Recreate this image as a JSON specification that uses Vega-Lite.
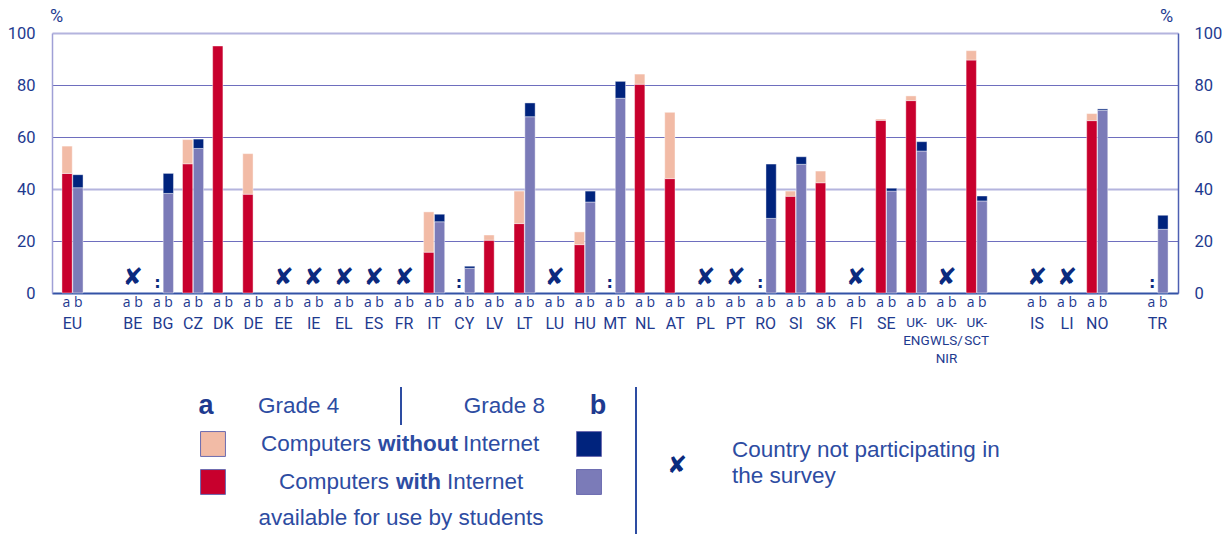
{
  "$schema": "https://vega.github.io/schema/vega-lite/v6.json",
  "width": 1126,
  "height": 260,
  "autosize": {"type": "none"},
  "padding": {"left": 52, "top": 33, "right": 48, "bottom": 241},
  "background": "#ffffff",
  "config": {"view": {"stroke": null}},
  "datasets": {
    "bars": [
      {"c": "EU", "g": "a", "s": "a-with", "v": 46}, {"c": "EU", "g": "a", "s": "a-without", "v": 10.5},
      {"c": "EU", "g": "b", "s": "b-with", "v": 40.5}, {"c": "EU", "g": "b", "s": "b-without", "v": 5},
      {"c": "BG", "g": "b", "s": "b-with", "v": 38.3}, {"c": "BG", "g": "b", "s": "b-without", "v": 7.7},
      {"c": "CZ", "g": "a", "s": "a-with", "v": 49.7}, {"c": "CZ", "g": "a", "s": "a-without", "v": 9.3},
      {"c": "CZ", "g": "b", "s": "b-with", "v": 55.6}, {"c": "CZ", "g": "b", "s": "b-without", "v": 3.6},
      {"c": "DK", "g": "a", "s": "a-with", "v": 95},
      {"c": "DE", "g": "a", "s": "a-with", "v": 38}, {"c": "DE", "g": "a", "s": "a-without", "v": 15.6},
      {"c": "IT", "g": "a", "s": "a-with", "v": 15.7}, {"c": "IT", "g": "a", "s": "a-without", "v": 15.5},
      {"c": "IT", "g": "b", "s": "b-with", "v": 27.4}, {"c": "IT", "g": "b", "s": "b-without", "v": 2.9},
      {"c": "CY", "g": "b", "s": "b-with", "v": 9.5}, {"c": "CY", "g": "b", "s": "b-without", "v": 0.8},
      {"c": "LV", "g": "a", "s": "a-with", "v": 20.3}, {"c": "LV", "g": "a", "s": "a-without", "v": 2},
      {"c": "LT", "g": "a", "s": "a-with", "v": 26.7}, {"c": "LT", "g": "a", "s": "a-without", "v": 12.5},
      {"c": "LT", "g": "b", "s": "b-with", "v": 67.8}, {"c": "LT", "g": "b", "s": "b-without", "v": 5.3},
      {"c": "HU", "g": "a", "s": "a-with", "v": 18.6}, {"c": "HU", "g": "a", "s": "a-without", "v": 4.9},
      {"c": "HU", "g": "b", "s": "b-with", "v": 35}, {"c": "HU", "g": "b", "s": "b-without", "v": 4.2},
      {"c": "MT", "g": "b", "s": "b-with", "v": 74.9}, {"c": "MT", "g": "b", "s": "b-without", "v": 6.5},
      {"c": "NL", "g": "a", "s": "a-with", "v": 80.3}, {"c": "NL", "g": "a", "s": "a-without", "v": 3.9},
      {"c": "AT", "g": "a", "s": "a-with", "v": 44}, {"c": "AT", "g": "a", "s": "a-without", "v": 25.5},
      {"c": "RO", "g": "b", "s": "b-with", "v": 28.7}, {"c": "RO", "g": "b", "s": "b-without", "v": 20.9},
      {"c": "SI", "g": "a", "s": "a-with", "v": 37.2}, {"c": "SI", "g": "a", "s": "a-without", "v": 2},
      {"c": "SI", "g": "b", "s": "b-with", "v": 49.5}, {"c": "SI", "g": "b", "s": "b-without", "v": 2.9},
      {"c": "SK", "g": "a", "s": "a-with", "v": 42.4}, {"c": "SK", "g": "a", "s": "a-without", "v": 4.5},
      {"c": "SE", "g": "a", "s": "a-with", "v": 66.4}, {"c": "SE", "g": "a", "s": "a-without", "v": 0.5},
      {"c": "SE", "g": "b", "s": "b-with", "v": 39.2}, {"c": "SE", "g": "b", "s": "b-without", "v": 1.1},
      {"c": "UK-ENG", "g": "a", "s": "a-with", "v": 74}, {"c": "UK-ENG", "g": "a", "s": "a-without", "v": 1.8},
      {"c": "UK-ENG", "g": "b", "s": "b-with", "v": 54.6}, {"c": "UK-ENG", "g": "b", "s": "b-without", "v": 3.6},
      {"c": "UK-SCT", "g": "a", "s": "a-with", "v": 89.6}, {"c": "UK-SCT", "g": "a", "s": "a-without", "v": 3.6},
      {"c": "UK-SCT", "g": "b", "s": "b-with", "v": 35.4}, {"c": "UK-SCT", "g": "b", "s": "b-without", "v": 1.9},
      {"c": "NO", "g": "a", "s": "a-with", "v": 66.3}, {"c": "NO", "g": "a", "s": "a-without", "v": 2.7},
      {"c": "NO", "g": "b", "s": "b-with", "v": 70.3}, {"c": "NO", "g": "b", "s": "b-without", "v": 0.5},
      {"c": "TR", "g": "b", "s": "b-with", "v": 24.5}, {"c": "TR", "g": "b", "s": "b-without", "v": 5.4}
    ],
    "countries": [
      {"c": "EU"}, {"c": "BE"}, {"c": "BG"}, {"c": "CZ"}, {"c": "DK"}, {"c": "DE"}, {"c": "EE"}, {"c": "IE"},
      {"c": "EL"}, {"c": "ES"}, {"c": "FR"}, {"c": "IT"}, {"c": "CY"}, {"c": "LV"}, {"c": "LT"}, {"c": "LU"},
      {"c": "HU"}, {"c": "MT"}, {"c": "NL"}, {"c": "AT"}, {"c": "PL"}, {"c": "PT"}, {"c": "RO"}, {"c": "SI"},
      {"c": "SK"}, {"c": "FI"}, {"c": "SE"}, {"c": "UK-ENG"}, {"c": "UK-WLS/NIR"}, {"c": "UK-SCT"},
      {"c": "IS"}, {"c": "LI"}, {"c": "NO"}, {"c": "TR"}
    ],
    "missing": [
      {"c": "BE", "k": "x"}, {"c": "EE", "k": "x"}, {"c": "IE", "k": "x"}, {"c": "EL", "k": "x"},
      {"c": "ES", "k": "x"}, {"c": "FR", "k": "x"}, {"c": "LU", "k": "x"}, {"c": "PL", "k": "x"},
      {"c": "PT", "k": "x"}, {"c": "FI", "k": "x"}, {"c": "UK-WLS/NIR", "k": "x"}, {"c": "IS", "k": "x"},
      {"c": "LI", "k": "x"},
      {"c": "BG", "k": "na"}, {"c": "CY", "k": "na"}, {"c": "MT", "k": "na"}, {"c": "RO", "k": "na"}, {"c": "TR", "k": "na"}
    ],
    "swatches": [
      {"g": "a", "t": "without", "s": "a-without"}, {"g": "a", "t": "with", "s": "a-with"},
      {"g": "b", "t": "without", "s": "b-without"}, {"g": "b", "t": "with", "s": "b-with"}
    ],
    "one": [{}]
  },
  "resolve": {"scale": {"x": "independent", "y": "independent"}},
  "layer": [
    {
      "layer": [
        {
          "data": {"name": "bars"},
          "mark": {"type": "bar", "stroke": "#ffffff", "strokeWidth": 0.7, "strokeOpacity": 0.6},
          "encoding": {
            "x": {
              "field": "c", "type": "nominal",
              "scale": {"domain": ["EU","_1","BE","BG","CZ","DK","DE","EE","IE","EL","ES","FR","IT","CY","LV","LT","LU","HU","MT","NL","AT","PL","PT","RO","SI","SK","FI","SE","UK-ENG","UK-WLS/NIR","UK-SCT","_2","IS","LI","NO","_3","TR"], "paddingInner": 0.3, "paddingOuter": 0.33},
              "axis": {
                "title": null, "ticks": false, "labelAngle": 0, "labelPadding": 22, "labelOverlap": false,
                "labelFont": "Roboto",
                "labelFontSize": {"condition": {"test": "indexof(datum.value, 'UK') == 0", "value": 13.5}, "value": 16},
                "labelColor": "#1E3A8F", "labelLineHeight": 18, "labelBaseline": "top",
                "domainColor": "#3352A6", "domainWidth": 2,
                "labelExpr": "datum.value == 'UK-ENG' ? ['UK-', 'ENG'] : datum.value == 'UK-WLS/NIR' ? ['UK-', 'WLS/', 'NIR'] : datum.value == 'UK-SCT' ? ['UK-', 'SCT'] : (indexof(datum.value, '_') == 0 ? '' : datum.value)"
              }
            },
            "xOffset": {"field": "g", "type": "nominal", "scale": {"domain": ["a", "b"], "paddingInner": 0.05}},
            "y": {
              "field": "v", "type": "quantitative", "stack": "zero",
              "scale": {"domain": [0, 100], "nice": false},
              "axis": {
                "title": "%", "titleAngle": 0, "titleX": 4, "titleY": -8, "titleAlign": "center", "titleBaseline": "bottom",
                "titleFont": "Roboto", "titleFontSize": 18, "titleFontWeight": "normal", "titleColor": "#1E3A8F",
                "values": [0, 20, 40, 60, 80, 100], "ticks": false, "labelPadding": 17,
                "labelFont": "Roboto", "labelFontSize": 16.5, "labelColor": "#1E3A8F",
                "domainColor": "#A0A0D6", "domainWidth": 1.5,
                "grid": true,
                "gridColor": {"condition": {"test": "datum.value === 40 || datum.value === 100", "value": "#B4B4DE"}, "value": "#6E6EBE"},
                "gridWidth": {"condition": {"test": "datum.value === 40 || datum.value === 100", "value": 2}, "value": 1}
              }
            },
            "color": {
              "field": "s", "type": "nominal",
              "scale": {"domain": ["a-with", "a-without", "b-with", "b-without"], "range": ["#C8002D", "#F2BBA6", "#7B7BB8", "#00237D"]},
              "legend": null
            },
            "order": {"field": "s", "type": "nominal", "sort": "ascending"}
          }
        },
        {
          "data": {"name": "countries"},
          "mark": {"type": "text", "text": "a b", "baseline": "top", "dy": 3, "font": "Open Sans", "fontSize": 14, "color": "#1E3A8F"},
          "encoding": {
            "x": {"field": "c", "type": "nominal", "scale": {"domain": ["EU","_1","BE","BG","CZ","DK","DE","EE","IE","EL","ES","FR","IT","CY","LV","LT","LU","HU","MT","NL","AT","PL","PT","RO","SI","SK","FI","SE","UK-ENG","UK-WLS/NIR","UK-SCT","_2","IS","LI","NO","_3","TR"]}},
            "y": {"datum": 0, "type": "quantitative"}
          }
        },
        {
          "data": {"name": "missing"},
          "transform": [{"filter": "datum.k === 'x'"}],
          "mark": {"type": "text", "text": "✘", "baseline": "bottom", "dy": -3, "font": "DejaVu Sans", "fontSize": 24, "fontStyle": "italic", "color": "#0B2A7E"},
          "encoding": {
            "x": {"field": "c", "type": "nominal", "scale": {"domain": ["EU","_1","BE","BG","CZ","DK","DE","EE","IE","EL","ES","FR","IT","CY","LV","LT","LU","HU","MT","NL","AT","PL","PT","RO","SI","SK","FI","SE","UK-ENG","UK-WLS/NIR","UK-SCT","_2","IS","LI","NO","_3","TR"]}},
            "y": {"datum": 0, "type": "quantitative"}
          }
        },
        {
          "data": {"name": "missing"},
          "transform": [{"filter": "datum.k === 'na'"}],
          "mark": {"type": "text", "text": ":", "baseline": "bottom", "dy": -2, "font": "DejaVu Sans", "fontWeight": "bold", "fontSize": 16, "color": "#0B2A7E"},
          "encoding": {
            "x": {"field": "c", "type": "nominal", "scale": {"domain": ["EU","_1","BE","BG","CZ","DK","DE","EE","IE","EL","ES","FR","IT","CY","LV","LT","LU","HU","MT","NL","AT","PL","PT","RO","SI","SK","FI","SE","UK-ENG","UK-WLS/NIR","UK-SCT","_2","IS","LI","NO","_3","TR"]}},
            "xOffset": {"datum": "a"},
            "y": {"datum": 0, "type": "quantitative"}
          }
        }
      ]
    },
    {
      "data": {"name": "bars"},
      "mark": {"type": "rule", "opacity": 0},
      "encoding": {
        "y": {
          "field": "v", "type": "quantitative",
          "scale": {"domain": [0, 100], "nice": false},
          "axis": {
            "orient": "right", "title": "%", "titleAngle": 0, "titleX": -12, "titleY": -8, "titleAlign": "center", "titleBaseline": "bottom",
            "titleFont": "Roboto", "titleFontSize": 18, "titleFontWeight": "normal", "titleColor": "#1E3A8F",
            "values": [0, 20, 40, 60, 80, 100], "ticks": false, "labelPadding": 16, "grid": false,
            "labelFont": "Roboto", "labelFontSize": 16.5, "labelColor": "#1E3A8F",
            "domainColor": "#4E5FB2", "domainWidth": 1.5
          }
        }
      }
    },
    {
      "layer": [
        {
          "data": {"name": "swatches"},
          "mark": {"type": "square", "size": 620, "opacity": 1, "stroke": "#6B6BB0", "strokeWidth": 1},
          "encoding": {
            "x": {"field": "g", "type": "nominal", "scale": {"type": "point", "domain": ["a","g4","c2","c3","mid","c5","c6","g8","b","sep","x","note"], "range": [161, 678], "padding": 0}, "axis": null},
            "y": {"field": "t", "type": "nominal", "scale": {"type": "point", "domain": ["top","head","h2","without","m","with","w2","avail","bot"], "range": [354, 506], "padding": 0}, "axis": null},
            "color": {"field": "s", "type": "nominal", "legend": null}
          }
        },
        {
          "data": {"name": "one"},
          "mark": {"type": "text", "text": "a", "dx": -7, "font": "Liberation Sans", "fontWeight": "bold", "fontSize": 27, "baseline": "middle", "color": "#1E3A8F"},
          "encoding": {"x": {"datum": "a", "type": "nominal"}, "y": {"datum": "head", "type": "nominal"}}
        },
        {
          "data": {"name": "one"},
          "mark": {"type": "text", "text": "b", "dx": 9, "font": "Liberation Sans", "fontWeight": "bold", "fontSize": 27, "baseline": "middle", "color": "#1E3A8F"},
          "encoding": {"x": {"datum": "b", "type": "nominal"}, "y": {"datum": "head", "type": "nominal"}}
        },
        {
          "data": {"name": "one"},
          "mark": {"type": "text", "text": "Grade 4", "align": "left", "dx": -2, "font": "Liberation Sans", "fontSize": 22.5, "baseline": "middle", "color": "#2D4CA2"},
          "encoding": {"x": {"datum": "g4", "type": "nominal"}, "y": {"datum": "head", "type": "nominal"}}
        },
        {
          "data": {"name": "one"},
          "mark": {"type": "text", "text": "Grade 8", "align": "right", "dx": 3, "font": "Liberation Sans", "fontSize": 22.5, "baseline": "middle", "color": "#2D4CA2"},
          "encoding": {"x": {"datum": "g8", "type": "nominal"}, "y": {"datum": "head", "type": "nominal"}}
        },
        {
          "data": {"name": "one"},
          "mark": {"type": "text", "text": "Computers", "align": "left", "dx": -140, "font": "Liberation Sans", "fontSize": 22.5, "baseline": "middle", "color": "#2D4CA2"},
          "encoding": {"x": {"datum": "mid", "type": "nominal"}, "y": {"datum": "without", "type": "nominal"}}
        },
        {
          "data": {"name": "one"},
          "mark": {"type": "text", "text": "without", "align": "left", "dx": -23, "font": "Liberation Sans", "fontWeight": "bold", "fontSize": 22.5, "baseline": "middle", "color": "#2D4CA2"},
          "encoding": {"x": {"datum": "mid", "type": "nominal"}, "y": {"datum": "without", "type": "nominal"}}
        },
        {
          "data": {"name": "one"},
          "mark": {"type": "text", "text": "Internet", "align": "left", "dx": 62, "font": "Liberation Sans", "fontSize": 22.5, "baseline": "middle", "color": "#2D4CA2"},
          "encoding": {"x": {"datum": "mid", "type": "nominal"}, "y": {"datum": "without", "type": "nominal"}}
        },
        {
          "data": {"name": "one"},
          "mark": {"type": "text", "text": "Computers", "align": "left", "dx": -122, "font": "Liberation Sans", "fontSize": 22.5, "baseline": "middle", "color": "#2D4CA2"},
          "encoding": {"x": {"datum": "mid", "type": "nominal"}, "y": {"datum": "with", "type": "nominal"}}
        },
        {
          "data": {"name": "one"},
          "mark": {"type": "text", "text": "with", "align": "left", "dx": -5, "font": "Liberation Sans", "fontWeight": "bold", "fontSize": 22.5, "baseline": "middle", "color": "#2D4CA2"},
          "encoding": {"x": {"datum": "mid", "type": "nominal"}, "y": {"datum": "with", "type": "nominal"}}
        },
        {
          "data": {"name": "one"},
          "mark": {"type": "text", "text": "Internet", "align": "left", "dx": 46, "font": "Liberation Sans", "fontSize": 22.5, "baseline": "middle", "color": "#2D4CA2"},
          "encoding": {"x": {"datum": "mid", "type": "nominal"}, "y": {"datum": "with", "type": "nominal"}}
        },
        {
          "data": {"name": "one"},
          "mark": {"type": "text", "text": "available for use by students", "align": "center", "dy": -2, "font": "Liberation Sans", "fontSize": 22.5, "baseline": "middle", "color": "#2D4CA2"},
          "encoding": {"x": {"datum": "mid", "type": "nominal"}, "y": {"datum": "avail", "type": "nominal"}}
        },
        {
          "data": {"name": "one"},
          "mark": {"type": "text", "text": ["Country not participating in", "the survey"], "align": "left", "dx": 2, "dy": -13, "lineHeight": 26, "font": "Liberation Sans", "fontSize": 22.5, "baseline": "middle", "color": "#2D4CA2"},
          "encoding": {"x": {"datum": "note", "type": "nominal"}, "y": {"datum": "m", "type": "nominal"}}
        },
        {
          "data": {"name": "one"},
          "mark": {"type": "text", "text": "✘", "dx": -6, "dy": 3, "font": "DejaVu Sans", "fontSize": 24, "fontStyle": "italic", "baseline": "middle", "color": "#0B2A7E"},
          "encoding": {"x": {"datum": "x", "type": "nominal"}, "y": {"datum": "m", "type": "nominal"}}
        },
        {
          "data": {"name": "one"},
          "mark": {"type": "rule", "color": "#2D4CA2", "strokeWidth": 2},
          "encoding": {"x": {"datum": "mid", "type": "nominal"}, "y": {"datum": "top", "type": "nominal"}, "y2": {"datum": "h2"}}
        },
        {
          "data": {"name": "one"},
          "mark": {"type": "rule", "color": "#2D4CA2", "strokeWidth": 2},
          "encoding": {"x": {"datum": "sep", "type": "nominal"}, "y": {"datum": "top", "type": "nominal"}, "y2": {"datum": "bot"}}
        }
      ]
    }
  ]
}
